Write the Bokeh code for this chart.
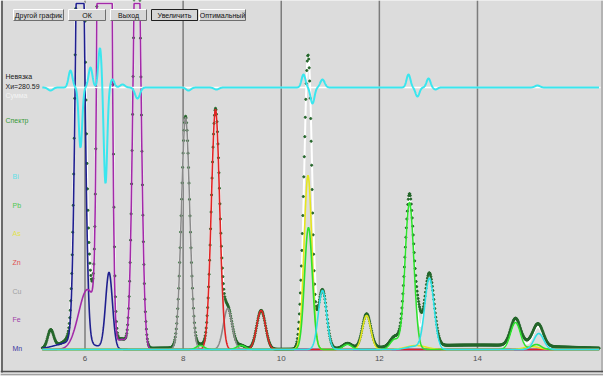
import numpy as np
from bokeh.plotting import figure
from bokeh.models import Range1d
from bokeh.core.properties import value
from bokeh.embed import file_html
from bokeh.resources import INLINE

# ---------------- data ----------------
tick_values = [6, 8, 10, 12, 14]
tick_labels = ["6", "8", "10", "12", "14"]

channel_start = 5.13
channel_end = 16.48
curve_step = 0.005       # drawing step of the fitted curves (keV)
channel_width = 0.01     # spectrum channel width (keV)

# fitted element lines: energy (keV), height (zoomed counts), sigma (keV)
mn_energy = [5.90, 6.49, 5.80]
mn_height = [600, 76, 8]
mn_sigma = [0.078, 0.070, 0.35]

fe_energy = [6.40, 7.06, 6.05, 6.75]
fe_height = [3600, 480, 60, 10]
fe_sigma = [0.072, 0.075, 0.18, 0.10]

cu_energy = [8.05, 8.91]
cu_height = [232, 41]
cu_sigma = [0.085, 0.09]

zn_energy = [8.66, 9.59]
zn_height = [240, 39]
zn_sigma = [0.085, 0.09]

as_energy = [10.545, 11.74, 12.75, 15.10]
as_height = [174, 34, 4, 3]
as_sigma = [0.08, 0.085, 0.2, 0.15]

pb_energy = [10.555, 12.614, 14.775, 12.31, 11.35, 9.18, 8.35, 15.20]
pb_height = [122, 147, 27, 10, 5, 4, 4, 5]
pb_sigma = [0.08, 0.09, 0.10, 0.09, 0.09, 0.09, 0.08, 0.10]

bi_energy = [10.84, 13.02, 15.25, 12.70]
bi_height = [59, 71, 16, 3]
bi_sigma = [0.085, 0.095, 0.10, 0.15]

# measured spectrum = fit + these deviations
spec_dev_energy = [5.30, 10.42, 10.66, 12.80, 7.7, 14.0]
spec_dev_height = [17, 18, -25, 16, 1.5, 4.5]
spec_dev_sigma = [0.06, 0.05, 0.05, 0.05, 0.5, 1.6]

# residual ("Невязка") bumps
resid_energy = [5.297, 5.704, 5.908, 6.112, 6.306, 6.418, 6.560, 6.765, 7.070,
                8.110, 8.680, 10.454, 10.637, 10.841, 12.594, 12.777, 13.002,
                13.144, 15.223]
resid_amp = [-3, 17, -60, 20, 40, -96, 8, 3, -11,
             -3, -2, 13, -16, 8, 13, -9, 9,
             -2, 2]
resid_sigma = [0.05, 0.04, 0.035, 0.04, 0.035, 0.035, 0.04, 0.05, 0.05,
               0.05, 0.05, 0.04, 0.04, 0.045, 0.04, 0.04, 0.04,
               0.04, 0.05]

element_names = ["Bi", "Pb", "As", "Zn", "Cu", "Fe", "Mn"]
button_labels = ["Другой график", "ОК", "Выход", "Увеличить", "Оптимальный"]

# ---------------- style / layout ----------------
BG = "#dcdcdc"
PX_PER_KEV = 49.06
E_AT_PX0 = 6 - 84.5 / PX_PER_KEV
BASE_PY = 349
CLIP = 346
RESID_ZERO_PY = 87
FONT = value("Liberation Sans")

def ex(px):
    return E_AT_PX0 + px / PX_PER_KEV

def yy(py):
    return BASE_PY - py

def peaks(e, centers, heights, sigmas):
    out = np.zeros_like(e)
    for c, h, s in zip(centers, heights, sigmas):
        out += h * np.exp(-0.5 * ((e - c) / s) ** 2)
    return out

elements = [
    ("Mn", mn_energy, mn_height, mn_sigma, "#1f1f8f"),
    ("Fe", fe_energy, fe_height, fe_sigma, "#a22aa8"),
    ("Cu", cu_energy, cu_height, cu_sigma, "#8a8a8a"),
    ("Zn", zn_energy, zn_height, zn_sigma, "#e02424"),
    ("As", as_energy, as_height, as_sigma, "#e6e61e"),
    ("Pb", pb_energy, pb_height, pb_sigma, "#2ee02e"),
    ("Bi", bi_energy, bi_height, bi_sigma, "#2ee0e6"),
]

def fit_total(e):
    return sum(peaks(e, c, h, s) for _, c, h, s, _ in elements)

e = np.arange(channel_start, channel_end, curve_step)
curves = {name: peaks(e, c, h, s) for name, c, h, s, _ in elements}
total = fit_total(e)
resid = yy(RESID_ZERO_PY) + peaks(e, resid_energy, resid_amp, resid_sigma)

ch = np.arange(channel_start, channel_end, channel_width)
spectrum = fit_total(ch) + peaks(ch, spec_dev_energy, spec_dev_height, spec_dev_sigma)

p = figure(width=603, height=376, x_range=Range1d(ex(0), ex(603)),
           y_range=Range1d(yy(376), yy(0)), x_axis_type=None, y_axis_type=None,
           toolbar_location=None, output_backend="svg", min_border=0,
           background_fill_color=BG, border_fill_color=BG, outline_line_color=None)

# grid lines
p.segment(x0=tick_values, x1=tick_values, y0=[0] * len(tick_values),
          y1=[yy(0)] * len(tick_values), line_color="#7c7c7c", line_width=1.5)

# tick labels
p.text(x=tick_values, y=[yy(358)] * len(tick_values), text=tick_labels,
       text_font=FONT, text_font_size="8px", text_color="#505050",
       text_align="center", text_baseline="middle")

# total fit (white)
p.line(e, np.minimum(total, CLIP), line_color="white", line_width=2)

# measured spectrum dots (beneath the element curves; tall peaks run off the top)
p.scatter(ch, spectrum, size=2.1, color="#24662a")

# element curves
for name, c, h, s, col in elements:
    p.line(e, np.minimum(curves[name], CLIP), line_color=col, line_width=1.6)

# residual
p.line([ex(44), ex(600)], [yy(RESID_ZERO_PY)] * 2, line_color="white", line_width=1.5)
p.line(e, resid, line_color="#3ae6ee", line_width=2)

# left labels
p.text(x=[ex(5), ex(5), ex(5), ex(5)], y=[yy(76), yy(86), yy(95), yy(120)],
       text=["Невязка", "Хи=280.59", "Сумма", "Спектр"],
       text_color=["#202020", "#202020", "#f4f4f4", "#3a9a3a"],
       text_font=FONT, text_font_size="7px", text_baseline="middle")
label_colors = ["#5ee0e8", "#4cc84c", "#e2e24a", "#e05050", "#a0a0a0", "#a040a8", "#3a3aa0"]
label_py = [176, 205, 233, 262, 291, 319, 348]
p.text(x=[ex(12)] * 7, y=[yy(v) for v in label_py], text=element_names,
       text_color=label_colors, text_font=FONT, text_font_size="7px",
       text_baseline="middle")

# buttons
btn_x = [(13, 63), (68, 105), (110, 146), (151, 197), (199, 245)]
bt, bb = 9, 20
p.quad(left=[ex(a) for a, b in btn_x], right=[ex(b) for a, b in btn_x],
       top=[yy(bt)] * 5, bottom=[yy(bb)] * 5, fill_color="#d6d6d6", line_color=None)
for a, b in btn_x:
    p.line([ex(a), ex(a), ex(b)], [yy(bb), yy(bt), yy(bt)], line_color="white", line_width=1)
    p.line([ex(a), ex(b), ex(b)], [yy(bb), yy(bb), yy(bt)], line_color="#6e6e6e", line_width=1)
a, b = btn_x[3]
p.quad(left=[ex(a)], right=[ex(b)], top=[yy(bt)], bottom=[yy(bb)],
       fill_color=None, line_color="#202020", line_width=1)
p.text(x=[ex((a + b) / 2) for a, b in btn_x], y=[yy((bt + bb) / 2)] * 5,
       text=button_labels, text_font=FONT, text_font_size="7px",
       text_color="#101010", text_align="center", text_baseline="middle")

# window borders
p.line([ex(1.5), ex(1.5)], [yy(0), yy(372)], line_color="#454545", line_width=1.5)
p.line([ex(601.5), ex(601.5)], [yy(0), yy(372)], line_color="#8a8a8a", line_width=1)
p.line([ex(0), ex(603)], [yy(371), yy(371)], line_color="#505050", line_width=1.5)
p.line([ex(0), ex(603)], [yy(374), yy(374)], line_color="#a0a0a0", line_width=1)

open("out.html", "w").write(file_html(p, INLINE))
